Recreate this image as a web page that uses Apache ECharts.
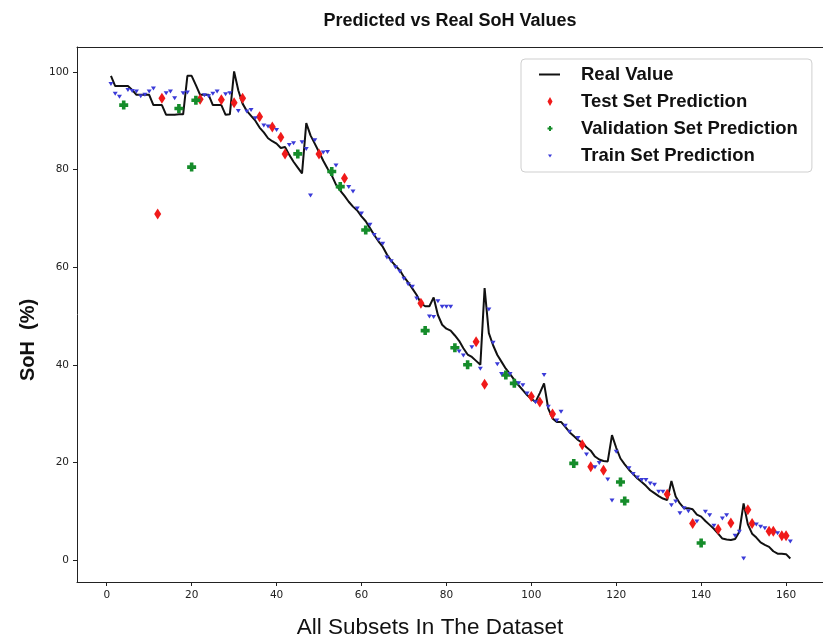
<!DOCTYPE html>
<html>
<head>
<meta charset="utf-8">
<script src="https://cdn.jsdelivr.net/npm/echarts@6/dist/echarts.min.js"></script>
<style>html,body{margin:0;padding:0;background:#fff}#c{width:823px;height:644px}</style>
</head>
<body>
<div id="c"></div>
<script>
// Real SoH values for subsets 1..161
const realValues = [
99.2,97.1,97.1,97.1,97.1,96.3,95.3,95.3,95.3,95.3,
93.2,93.2,93.2,91.2,91.2,91.2,91.3,91.3,99.2,99.2,
97.3,95.3,95.3,95.3,93.2,93.2,93.2,91.2,91.3,100.1,
96.2,93.5,92.0,91.0,90.0,88.6,87.6,86.4,85.8,85.3,
84.4,84.6,83.0,81.6,80.4,79.2,89.5,87.0,85.3,83.6,
81.8,80.2,78.8,76.9,75.7,74.6,73.4,72.4,71.6,70.4,
69.4,68.0,66.6,65.3,64.2,62.6,61.3,60.3,59.4,58.0,
56.9,55.6,54.3,52.6,52.0,52.0,53.8,50.2,48.2,47.4,
47.0,46.0,44.9,43.4,42.1,41.6,40.8,40.0,55.7,46.5,
44.0,42.0,40.6,39.2,38.1,36.9,35.8,34.8,33.8,33.0,
32.4,34.2,36.2,31.0,29.0,28.3,28.3,27.3,26.2,25.4,
24.6,24.0,23.1,22.4,21.2,20.6,20.3,20.2,25.6,23.0,
20.8,19.6,18.5,17.6,16.7,16.0,15.2,14.3,13.7,13.1,
12.6,12.3,16.2,13.0,11.6,10.6,10.6,10.4,9.3,8.9,
8.0,7.2,6.4,5.4,4.4,4.2,4.1,4.3,5.8,11.6,
7.3,5.4,4.6,3.6,3.1,2.7,1.8,1.3,1.3,1.2,
0.3];

const testX = [12,13,22,27,30,32,36,39,41,42,50,56,74,87,89,100,102,105,112,114,117,132,138,144,147,151,152,156,157,159,160];
const testY = [70.9,94.6,94.4,94.3,93.7,94.6,90.8,88.7,86.6,83.2,83.2,78.2,52.6,44.7,36.0,33.5,32.4,29.9,23.6,19.1,18.4,13.5,7.5,6.3,7.6,10.3,7.5,5.9,5.9,5.0,5.0];

const valX = [4,17,20,21,45,53,55,61,75,82,85,94,96,110,121,122,140];
const valY = [93.2,92.5,80.5,94.2,83.2,79.6,76.5,67.6,47.0,43.5,40.0,37.9,36.2,19.8,16.0,12.1,3.5];

const trainX = [1,2,3,5,6,7,8,9,10,11,14,15,16,18,19,23,24,25,26,28,29,31,33,34,35,37,38,40,43,44,46,47,48,49,51,52,54,57,58,59,60,
62,63,64,65,66,67,68,69,70,71,72,73,76,77,78,79,80,81,83,84,86,88,90,91,92,93,95,97,98,99,101,103,104,106,107,108,109,111,113,
115,116,118,119,120,123,124,125,126,127,128,129,130,131,133,134,135,136,137,139,141,142,143,145,146,148,149,150,153,154,155,158,161];
const trainY = [97.5,95.5,94.9,96.3,96.1,96.0,95.0,95.3,96.0,96.6,95.6,96.0,94.6,95.6,95.8,95.2,95.0,95.5,96.0,95.4,95.6,92.0,91.9,92.2,90.5,89.0,88.8,88.1,85.0,85.4,85.6,84.2,74.7,86.0,83.5,83.6,80.8,76.4,75.5,72.0,71.0,
68.7,66.6,65.6,64.8,62.0,61.2,60.0,59.1,57.6,56.5,56.0,53.6,49.9,49.8,53.0,51.9,51.9,51.9,42.7,41.9,43.6,39.2,51.3,44.5,40.1,38.1,38.1,36.2,35.8,34.1,32.3,37.9,31.4,28.6,30.4,27.5,26.3,25.0,21.6,
19.0,19.9,16.5,12.2,22.2,18.8,17.6,16.9,16.4,16.4,15.7,15.4,14.0,14.0,11.2,12.0,9.6,10.6,10.0,7.9,9.9,9.2,7.0,8.5,9.2,5.0,5.8,0.3,7.3,6.8,6.5,5.5,3.8];

const xTicks = [0,20,40,60,80,100,120,140,160];
const yTicks = [0,20,40,60,80,100];

const zip = (xs, ys) => xs.map((x, i) => [x, ys[i]]);
const realData = realValues.map((v, i) => [i + 1, v]);

const chart = echarts.init(document.getElementById('c'), null, {renderer: 'canvas'});
const font = 'Liberation Sans, Arial, sans-serif';
const X_MIN = -7, X_MAX = 168.7, Y_MIN = -4.5, Y_MAX = 105.1;
chart.setOption({
  animation: false,
  backgroundColor: '#ffffff',
  title: {
    text: 'Predicted vs Real SoH Values',
    left: 445, top: 7, textAlign: 'center',
    textStyle: {fontFamily: font, fontWeight: 'bold', fontSize: 18, color: '#111'}
  },
  grid: {left: 77, top: 47, right: 0, bottom: 62},
  xAxis: [{
    type: 'value', min: X_MIN, max: X_MAX,
    axisLine: {show: true, onZero: false, lineStyle: {color: '#222', width: 1}},
    axisTick: {show: true, inside: false, length: 4, lineStyle: {color: '#222'}, customValues: xTicks},
    axisLabel: {customValues: xTicks, margin: 8, fontFamily: 'DejaVu Sans', fontSize: 10.5, color: '#222'},
    splitLine: {show: false}
  }, {
    type: 'value', position: 'top', min: X_MIN, max: X_MAX,
    axisLine: {show: true, onZero: false, lineStyle: {color: '#222', width: 1}},
    axisTick: {show: false}, axisLabel: {show: false}, splitLine: {show: false}
  }],
  yAxis: {
    type: 'value', min: Y_MIN, max: Y_MAX,
    axisLine: {show: true, onZero: false, lineStyle: {color: '#222', width: 1}},
    axisTick: {show: true, inside: false, length: 4, lineStyle: {color: '#222'}, customValues: yTicks},
    axisLabel: {customValues: yTicks, margin: 8, fontFamily: 'DejaVu Sans', fontSize: 10.5, color: '#222'},
    splitLine: {show: false}
  },
  legend: {
    orient: 'vertical', left: 521, top: 59,
    backgroundColor: '#fff', borderColor: '#cfcfcf', borderWidth: 1, borderRadius: 4,
    padding: [6, 14, 7, 18],
    itemWidth: 37, itemHeight: 14, itemGap: 8,
    textStyle: {fontFamily: font, fontWeight: 'bold', fontSize: 18.5, lineHeight: 18, color: '#111'},
    data: [
      {name: 'Real Value', icon: 'path://M0,0 M37,14 M0,6 L21,6 L21,8 L0,8 Z'},
      {name: 'Test Set Prediction', icon: 'path://M0,0 M37,14 M11,2.5 L13.5,7 L11,11.5 L8.5,7 Z'},
      {name: 'Validation Set Prediction', icon: 'path://M0,0 M37,14 M10,4.5 H12 V6 H13.5 V8 H12 V9.5 H10 V8 H8.5 V6 H10 Z'},
      {name: 'Train Set Prediction', icon: 'path://M0,0 M37,14 M9,6 L13,6 L11,9 Z'}
    ]
  },
  graphic: [
    {type: 'text', x: 430, y: 628, style: {text: 'All Subsets In The Dataset', fontFamily: font, fontSize: 22.5, fontWeight: 'normal', fill: '#111', textAlign: 'center', textVerticalAlign: 'middle'}},
    {type: 'text', x: 28, y: 340, rotation: Math.PI / 2, style: {text: 'SoH  (%)', fontFamily: font, fontSize: 20, fontWeight: 'bold', fill: '#111', textAlign: 'center', textVerticalAlign: 'middle'}}
  ],
  series: [
    {name: 'Real Value', type: 'line', data: realData, showSymbol: false, symbol: 'none',
     lineStyle: {color: '#111', width: 2}, itemStyle: {color: '#111'}, z: 2},
    {name: 'Test Set Prediction', type: 'scatter', data: zip(testX, testY),
     symbol: 'path://M0,-1 L0.6,0 L0,1 L-0.6,0 Z', symbolSize: [7, 11], itemStyle: {color: '#f01a1a', opacity: 1}, z: 3},
    {name: 'Validation Set Prediction', type: 'scatter', data: zip(valX, valY),
     symbol: 'path://M3,0 H7 V3 H10 V7 H7 V10 H3 V7 H0 V3 H3 Z', symbolSize: 9, itemStyle: {color: '#158c2a', opacity: 1}, z: 4},
    {name: 'Train Set Prediction', type: 'scatter', data: zip(trainX, trainY),
     symbol: 'path://M0,0 L6,0 L3,5 Z', symbolSize: [5, 4], itemStyle: {color: '#3a3ad8', opacity: 1}, z: 5}
  ]
});
</script>
</body>
</html>
